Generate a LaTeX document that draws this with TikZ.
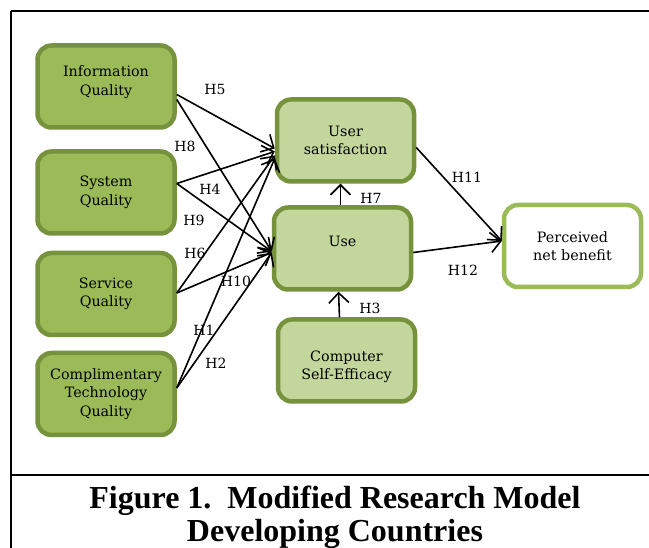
\documentclass[tikz,border=0pt]{standalone}
\usepackage{fontspec}
\setmainfont{Liberation Serif}
\newfontfamily\boxfont{DejaVu Serif}
\usepackage{xcolor}
\usetikzlibrary{positioning, arrows.meta}

\definecolor{olivefill}{HTML}{9BBB59}
\definecolor{olivedark}{HTML}{76923C}
\definecolor{olivelight}{HTML}{C3D69B}

\tikzset{
  construct/.style={rectangle, rounded corners=14pt, draw=olivedark, line width=4.5pt,
    minimum width=137pt, minimum height=82pt, inner sep=2pt, align=center,
    font=\boxfont\fontsize{14.3}{18.5}\selectfont},
  srcbox/.style={construct, fill=olivefill},
  midbox/.style={construct, fill=olivelight},
  outbox/.style={construct, draw=olivefill, fill=white},
  hyp/.style={line width=1.6pt, -{Straight Barb[length=10pt,width=20pt,line width=1.6pt]}},
  hlabel/.style={font=\boxfont\fontsize{14}{16}\selectfont}
}

\begin{document}
\begin{tikzpicture}[x=1pt, y=-1pt]
                \useasboundingbox (0,0) rectangle (649,548);
                \draw[line width=2.5pt] (11,11) -- (649,11);
                \draw[line width=2.5pt] (11,11) -- (11,548);
                \draw[line width=2.5pt] (11,475) -- (649,475);

                \node[srcbox, text depth=12pt] (info) at (106, 86.5) {Information\\Quality};
                \node[srcbox] (sys) at (106, 192.5) {System\\Quality};
                \node[srcbox] (serv) at (106, 294) {Service\\Quality};
                \node[srcbox] (comp) at (106, 394) {Complimentary\\Technology\\Quality};
                \node[midbox] (us) at (345.5, 140.5) {User\\satisfaction};
                \node[midbox, text depth=14pt] (use) at (342.5, 248.5) {Use};
                \node[midbox, text height=42pt] (cse) at (346.5, 360.5) {Computer\\Self-Efficacy};
                \node[outbox] (pnb) at (572.5, 246) {Perceived\\net benefit};

                \draw[hyp] ([yshift=-8pt]info.east) -- ([yshift=-8pt]us.west);
                \draw[hyp] ([yshift=-13pt]info.east) -- ([yshift=-3pt]use.west);
                \draw[hyp] ([yshift=9pt]sys.east) -- ([yshift=-11pt]us.west);
                \draw[hyp] ([yshift=9pt]sys.east) -- ([yshift=-3pt]use.west);
                \draw[hyp] ([yshift=1pt]serv.east) -- ([yshift=-15pt]us.west);
                \draw[hyp] ([yshift=1pt]serv.east) -- ([yshift=-4pt]use.west);
                \draw[hyp] ([yshift=6pt]comp.east) -- ([yshift=-18pt]us.west);
                \draw[hyp] ([yshift=6pt]comp.east) -- ([yshift=-4pt]use.west);
                \draw[hyp] ([xshift=-2pt]use.north) -- ([xshift=-5pt]us.south);
                \draw[hyp] ([xshift=-7pt]cse.north) -- ([xshift=-4pt]use.south);
                \draw[hyp] ([yshift=-7pt]us.east) -- ([yshift=5pt]pnb.west);
                \draw[hyp] ([yshift=-4pt]use.east) -- ([yshift=5pt]pnb.west);

                \node[hlabel] (h5) at (215, 89) {H5};
                \node[hlabel] (h8) at (185, 146) {H8};
                \node[hlabel] (h4) at (210, 189) {H4};
                \node[hlabel] (h9) at (194, 220) {H9};
                \node[hlabel] (h6) at (195, 253) {H6};
                \node[hlabel] (h10) at (236, 281) {H10};
                \node[hlabel] (h1) at (204, 330) {H1};
                \node[hlabel] (h2) at (216, 363) {H2};
                \node[hlabel] (h7) at (371, 198) {H7};
                \node[hlabel] (h3) at (370, 308) {H3};
                \node[hlabel] (h11) at (467, 177) {H11};
                \node[hlabel] (h12) at (463, 270) {H12};

                \node[font=\bfseries\fontsize{32}{33}\selectfont, align=center] (cap) at (335, 517)
                  {Figure 1.\ \ Modified Research Model\\Developing Countries};
\end{tikzpicture}
\end{document}
